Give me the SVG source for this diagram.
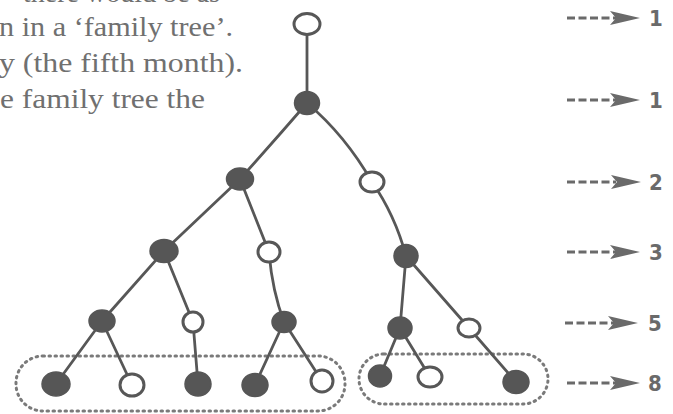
<svg xmlns="http://www.w3.org/2000/svg" xmlns:xlink="http://www.w3.org/1999/xlink" width="673" height="414" viewBox="0 0 673 414">
  <style>
    .prose { font-family: "Liberation Serif", "DejaVu Serif", serif; font-size: 28px; fill: #707070; }
    .edge { fill: none; stroke: #575757; stroke-width: 2.8; stroke-linecap: round; }
    .full { fill: #565656; stroke: #565656; stroke-width: 1.5; }
    .empty { fill: #ffffff; stroke: #575757; stroke-width: 3; }
    .group { fill: none; stroke: #7a7a7a; stroke-width: 3; stroke-dasharray: 1.5 4.5; stroke-linecap: round; }
    .dash { stroke: #6a6a6a; stroke-width: 3; stroke-dasharray: 8 3.5; }
    .count { font-family: "Liberation Sans Narrow", "DejaVu Sans Condensed", sans-serif; font-stretch: condensed; font-weight: bold; font-size: 22px; fill: #6a6a6a; }
  </style>
  <defs>
    <path id="head" d="M-30,-7 L0,0 L-30,7 L-24,0 Z" fill="#6a6a6a"/>
  </defs>
  <rect width="673" height="414" fill="#ffffff"/>

  <!-- running text beside the tree -->
  <g id="prose">
    <text class="prose" x="23" y="2" textLength="197" lengthAdjust="spacingAndGlyphs">there would be as</text>
    <text class="prose" x="-1" y="36" textLength="234" lengthAdjust="spacingAndGlyphs">n in a ‘family tree’.</text>
    <text class="prose" x="-1" y="72" textLength="244" lengthAdjust="spacingAndGlyphs">y (the fifth month).</text>
    <text class="prose" x="0" y="108" textLength="205" lengthAdjust="spacingAndGlyphs">e family tree the</text>
  </g>

  <!-- dotted outlines round the last generation -->
  <g id="groups">
    <rect class="group" x="16" y="356" width="329" height="55" rx="27"/>
    <rect class="group" x="359" y="354" width="189" height="50" rx="25"/>
  </g>

  <!-- parent to child links -->
  <g id="connectors">
    <path class="edge" d="M307,24 L307,103"/>
    <path class="edge" d="M307,103 Q275,140 240,179"/>
    <path class="edge" d="M307,103 Q345,135 372,182"/>
    <path class="edge" d="M240,179 L164,251"/>
    <path class="edge" d="M240,179 L269,252"/>
    <path class="edge" d="M372,182 Q395,215 406,256"/>
    <path class="edge" d="M164,251 L102,321"/>
    <path class="edge" d="M164,251 L193,322"/>
    <path class="edge" d="M269,252 Q272,290 284,322"/>
    <path class="edge" d="M406,256 L400,328"/>
    <path class="edge" d="M406,256 L469,328"/>
    <path class="edge" d="M102,321 L56,384"/>
    <path class="edge" d="M102,321 L132,385"/>
    <path class="edge" d="M193,322 L198,384"/>
    <path class="edge" d="M284,322 L255,385"/>
    <path class="edge" d="M284,322 L322,381"/>
    <path class="edge" d="M400,328 L380,376"/>
    <path class="edge" d="M400,328 L430,377"/>
    <path class="edge" d="M469,328 L516,382"/>
  </g>

  <g id="n0"><ellipse class="empty" cx="307" cy="24" rx="13" ry="10.5"/></g>
  <g id="n1"><ellipse class="full" cx="307" cy="103" rx="12.5" ry="11.5"/></g>
  <g id="n2"><ellipse class="full" cx="240" cy="179" rx="13.5" ry="11"/></g>
  <g id="n3"><ellipse class="empty" cx="372" cy="182" rx="12" ry="10"/></g>
  <g id="n4"><ellipse class="full" cx="164" cy="251" rx="14" ry="11.5"/></g>
  <g id="n5"><ellipse class="empty" cx="269" cy="252" rx="11" ry="10"/></g>
  <g id="n6"><ellipse class="full" cx="406" cy="256" rx="12" ry="11.5"/></g>
  <g id="n7"><ellipse class="full" cx="102" cy="321" rx="13" ry="11"/></g>
  <g id="n8"><ellipse class="empty" cx="193" cy="322" rx="10" ry="10"/></g>
  <g id="n9"><ellipse class="full" cx="284" cy="322" rx="12" ry="10.5"/></g>
  <g id="n10"><ellipse class="full" cx="400" cy="328" rx="12" ry="11"/></g>
  <g id="n11"><ellipse class="empty" cx="469" cy="328" rx="11" ry="9"/></g>
  <g id="n12"><ellipse class="full" cx="56" cy="384" rx="14" ry="12"/></g>
  <g id="n13"><ellipse class="empty" cx="132" cy="385" rx="12" ry="11"/></g>
  <g id="n14"><ellipse class="full" cx="198" cy="384" rx="13" ry="12"/></g>
  <g id="n15"><ellipse class="full" cx="255" cy="385" rx="13" ry="11.5"/></g>
  <g id="n16"><ellipse class="empty" cx="322" cy="381" rx="11" ry="11"/></g>
  <g id="n17"><ellipse class="full" cx="380" cy="376" rx="11.5" ry="11"/></g>
  <g id="n18"><ellipse class="empty" cx="430" cy="377" rx="12" ry="10"/></g>
  <g id="n19"><ellipse class="full" cx="516" cy="382" rx="13" ry="11.5"/></g>

  <!-- generation counts -->
  <g id="counts">
    <line class="dash" x1="567" y1="18" x2="616" y2="18"/><use xlink:href="#head" x="640" y="18"/><text class="count" x="649" y="26">1</text>
    <line class="dash" x1="567" y1="100" x2="616" y2="100"/><use xlink:href="#head" x="640" y="100"/><text class="count" x="649" y="108">1</text>
    <line class="dash" x1="567" y1="182" x2="616" y2="182"/><use xlink:href="#head" x="641" y="182"/><text class="count" x="649" y="190">2</text>
    <line class="dash" x1="567" y1="252" x2="616" y2="252"/><use xlink:href="#head" x="640" y="252"/><text class="count" x="649" y="260">3</text>
    <line class="dash" x1="565" y1="323" x2="614" y2="323"/><use xlink:href="#head" x="638" y="323"/><text class="count" x="648" y="331">5</text>
    <line class="dash" x1="567" y1="383" x2="616" y2="383"/><use xlink:href="#head" x="640" y="383"/><text class="count" x="648" y="391">8</text>
  </g>
</svg>
